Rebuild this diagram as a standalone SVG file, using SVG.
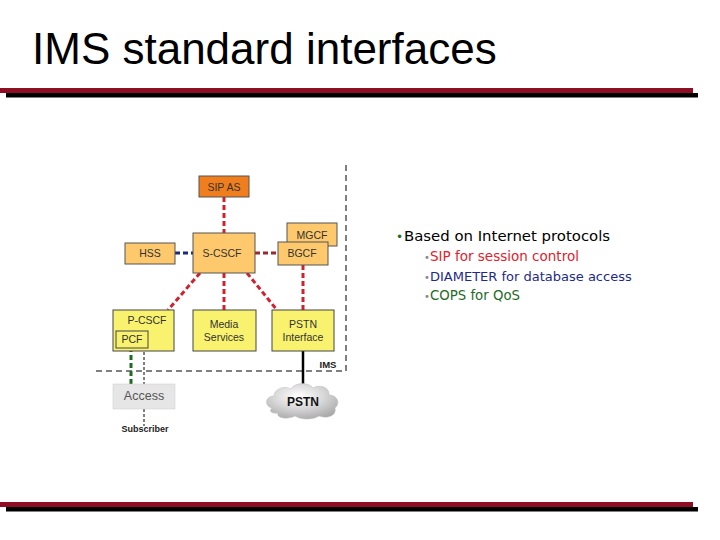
<svg xmlns="http://www.w3.org/2000/svg" width="720" height="540" viewBox="0 0 720 540">
<style>
.nt{font-family:"Liberation Sans",Arial,sans-serif;font-size:10.5px;fill:#333;text-anchor:middle}
.or{fill:#FDC96C;stroke:#555;stroke-width:1}
.ye{fill:#F9F26E;stroke:#444;stroke-width:1}
.red{stroke:#D0222E;stroke-width:3;stroke-dasharray:5,3;fill:none}
.bul{font-family:"DejaVu Sans",Verdana,sans-serif}
.sb{fill:#8A8A8A;font-size:10px}
</style>
<defs>
<radialGradient id="cg" cx="0.45" cy="0.35" r="0.7">
<stop offset="0" stop-color="#ffffff"/>
<stop offset="0.5" stop-color="#d8d8d8"/>
<stop offset="1" stop-color="#a8a8a8"/>
</radialGradient>
</defs>
<rect width="720" height="540" fill="#fff"/>
<text x="32" y="64" font-family="Liberation Sans,Arial,sans-serif" font-size="44" fill="#000">IMS standard interfaces</text>
<rect x="0" y="88" width="693" height="5" fill="#8E0E24"/>
<rect x="6" y="93" width="692" height="4.5" fill="#000"/>
<rect x="0" y="502" width="693" height="5" fill="#8E0E24"/>
<rect x="6" y="507" width="692" height="4.5" fill="#000"/>

<g id="boundary" fill="none" stroke="#000" stroke-width="1" stroke-dasharray="6,4">
<line x1="346" y1="165" x2="346" y2="371"/>
<line x1="96" y1="371" x2="346" y2="371"/>
</g>

<g id="connectors">
<line class="red" x1="224" y1="197" x2="224" y2="233"/>
<line x1="175" y1="253" x2="193" y2="253" stroke="#1C2A7A" stroke-width="3" stroke-dasharray="5,3"/>
<line x1="255" y1="253" x2="278" y2="253" stroke="#9A2A32" stroke-width="3" stroke-dasharray="5,3"/>
<line class="red" x1="303" y1="265" x2="303" y2="310"/>
<line class="red" x1="200" y1="273" x2="168" y2="310"/>
<line class="red" x1="224" y1="273" x2="224" y2="310"/>
<line class="red" x1="247" y1="273" x2="277" y2="310"/>
<line x1="303" y1="351" x2="303" y2="388" stroke="#000" stroke-width="2.5"/>
<line x1="131" y1="347" x2="131" y2="384" stroke="#1F6B1F" stroke-width="3" stroke-dasharray="5,3"/>
<line x1="144" y1="347" x2="144" y2="384" stroke="#000" stroke-width="1" stroke-dasharray="3,2"/>
<line x1="144" y1="409" x2="144" y2="426" stroke="#000" stroke-width="1" stroke-dasharray="3,2"/>
</g>

<g id="sipas"><rect x="199" y="176" width="50" height="21" fill="#F07E1C" stroke="#555"/><text class="nt" x="224" y="190.5">SIP AS</text></g>
<g id="hss"><rect class="or" x="125" y="243" width="50" height="21"/><text class="nt" x="150" y="257">HSS</text></g>
<g id="scscf"><rect class="or" x="193" y="233" width="62" height="40"/><text class="nt" x="222" y="257">S-CSCF</text></g>
<g id="mgcf"><rect class="or" x="287" y="223" width="50" height="23"/><text class="nt" x="312" y="239">MGCF</text></g>
<g id="bgcf"><rect class="or" x="278" y="242" width="50" height="23"/><text class="nt" x="302" y="257">BGCF</text></g>
<g id="pcscf"><rect class="ye" x="113" y="310" width="61" height="41"/><text class="nt" x="147" y="324">P-CSCF</text>
<rect x="116" y="331" width="32" height="17" fill="none" stroke="#444"/><text class="nt" x="132" y="343">PCF</text></g>
<g id="media"><rect class="ye" x="193" y="310" width="63" height="41"/><text class="nt" x="224" y="327.5">Media</text><text class="nt" x="224" y="340.5">Services</text></g>
<g id="pstni"><rect class="ye" x="272" y="310" width="62" height="41"/><text class="nt" x="303" y="327.5">PSTN</text><text class="nt" x="303" y="340.5">Interface</text></g>
<g id="ims"><text x="328" y="368" font-family="Liberation Sans,Arial,sans-serif" font-size="9.5" font-weight="bold" fill="#222" text-anchor="middle">IMS</text></g>
<g id="access"><rect x="113" y="384" width="62" height="25" fill="#E6E6E6" stroke="#ccc" stroke-width="0.5"/><text x="144" y="400" font-family="Liberation Sans,Arial,sans-serif" font-size="12.5" fill="#555" text-anchor="middle">Access</text></g>
<g id="subscriber"><text x="145" y="432" font-family="Liberation Sans,Arial,sans-serif" font-size="9" font-weight="bold" fill="#222" text-anchor="middle">Subscriber</text></g>
<g id="pstn">
<path d="M272,408 C264,406 265,396 274,396 C274,389 284,385 291,389 C295,382 309,382 313,388 C319,384 330,387 329,395 C337,395 341,403 335,408 C337,416 327,419 319,416 C313,420 301,420 295,416 C287,420 276,418 278,413 C272,414 268,411 272,408 Z" fill="url(#cg)" stroke="#bbb" stroke-width="0.5"/>
<text x="303" y="406" font-family="Liberation Sans,Arial,sans-serif" font-size="12" font-weight="bold" fill="#111" text-anchor="middle">PSTN</text>
</g>

<g id="bullets" class="bul">
<text x="396" y="241" font-size="12" fill="#1F6B1F">•</text>
<text x="404" y="241" font-size="14.9" fill="#000">Based on Internet protocols</text>
<text class="sb" x="424" y="261">•</text>
<text x="430" y="261" font-size="13.5" fill="#E0222C">SIP for session control</text>
<text class="sb" x="424" y="281">•</text>
<text x="430" y="281" font-size="13" fill="#1C2A8A">DIAMETER for database access</text>
<text class="sb" x="424" y="299.5">•</text>
<text x="430" y="299.5" font-size="13.3" fill="#1F6B1F">COPS for QoS</text>
</g>
</svg>
